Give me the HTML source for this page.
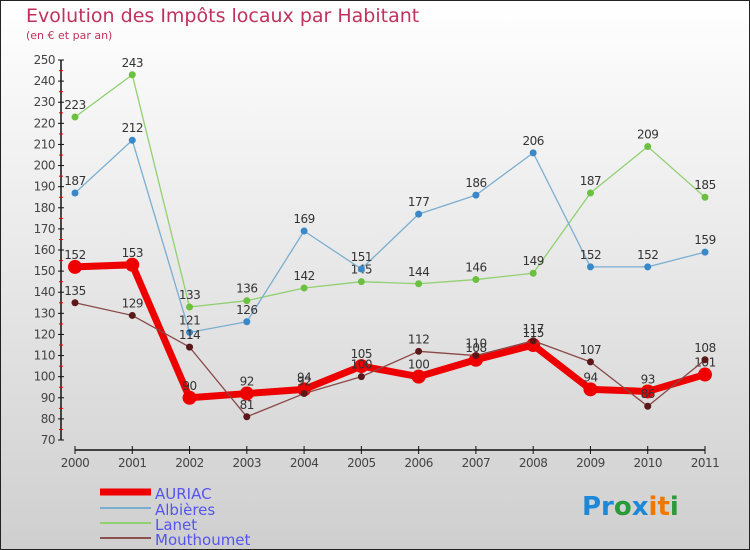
<!DOCTYPE html>
<html><head><meta charset="utf-8"><style>
body{margin:0;width:750px;height:550px;overflow:hidden;}
svg{display:block;font-family:"DejaVu Sans","Liberation Sans",sans-serif;}
</style></head><body>
<svg id="c" width="750" height="550">
<defs><linearGradient id="bg" x1="0" y1="0" x2="0" y2="1"><stop offset="0" stop-color="#ffffff"/><stop offset="1" stop-color="#cfcfcf"/></linearGradient></defs>
<rect x="0.5" y="0.5" width="749" height="549" fill="url(#bg)" stroke="#222"/>
<text x="26" y="22" font-size="19" fill="#c0315e">Evolution des Impôts locaux par Habitant</text>
<text x="26" y="39" font-size="11" fill="#c0315e">(en € et par an)</text>
<g id="axes"></g><g id="plot"></g>
<g>
<line x1="100" y1="492" x2="151" y2="492" stroke="#e00" stroke-width="7"/>
<text x="155" y="499" font-size="15" fill="#5555ee">AURIAC</text>
<line x1="100" y1="508" x2="151" y2="508" stroke="#7aaed0" stroke-width="2"/>
<text x="155" y="515" font-size="15" fill="#5555ee">Albières</text>
<line x1="100" y1="523" x2="151" y2="523" stroke="#90d070" stroke-width="2"/>
<text x="155" y="530" font-size="15" fill="#5555ee">Lanet</text>
<line x1="100" y1="538" x2="151" y2="538" stroke="#8a5050" stroke-width="2"/>
<text x="155" y="545" font-size="15" fill="#5555ee">Mouthoumet</text>
</g>
<text x="582" y="515" font-size="26" font-weight="bold"><tspan fill="#1e88d8">Pr</tspan><tspan fill="#2a9a3a">o</tspan><tspan fill="#1e88d8">x</tspan><tspan fill="#f07800">i</tspan><tspan fill="#f07800">t</tspan><tspan fill="#2a9a3a">i</tspan></text>
</svg>
<script>
const years=["2000","2001","2002","2003","2004","2005","2006","2007","2008","2009","2010","2011"];
const yTicks=[70,80,90,100,110,120,130,140,150,160,170,180,190,200,210,220,230,240,250];
const auriac=[152,153,90,92,94,105,100,108,115,94,93,101];
const albieres=[187,212,121,126,169,151,177,186,206,152,152,159];
const lanet=[223,243,133,136,142,145,144,146,149,187,209,185];
const mouthoumet=[135,129,114,81,92,100,112,110,117,107,86,108];
const NS="http://www.w3.org/2000/svg";
const xS=i=>75+i*(630/11);
const yS=v=>440-(v-70)*(380/180);
function mk(t,a,p){const e=document.createElementNS(NS,t);for(const k in a)e.setAttribute(k,a[k]);p.appendChild(e);return e;}
const ax=document.getElementById('axes'),pl=document.getElementById('plot');
const ya=mk('line',{x1:61,y1:60,x2:61,y2:440,stroke:'#111','stroke-width':1.5},ax);


yTicks.forEach((v,i)=>{const y=yS(v);
 mk('line',{x1:58,y1:y,x2:64,y2:y,stroke:'#111'},ax);
 if(i<yTicks.length-1)mk('line',{x1:59,y1:y-10.5,x2:63,y2:y-10.5,stroke:'#e00'},ax);
 const t=mk('text',{x:55,y:y+4,'font-size':12,fill:'#444','text-anchor':'end','letter-spacing':'-0.5'},ax);t.textContent=v;
 
 
});
const xa=mk('line',{x1:75,y1:450,x2:705,y2:450,stroke:'#111','stroke-width':1.5},ax);


years.forEach((yr,i)=>{const x=xS(i);
 mk('line',{x1:x,y1:446,x2:x,y2:454,stroke:'#111'},ax);
 const t=mk('text',{x:x,y:467,'font-size':12,fill:'#444','text-anchor':'middle','letter-spacing':'-0.5'},ax);t.textContent=yr;
 
 
});
function series(d,name,col,w,r,dot){
 const g=mk('g',{},pl);
 
 
 mk('polyline',{points:d.map((v,i)=>xS(i)+','+yS(v)).join(' '),fill:'none',stroke:col,'stroke-width':w,'stroke-linejoin':'round'},g);
 d.forEach((v,i)=>{const c=mk('circle',{cx:xS(i),cy:yS(v),r:r,fill:dot},g);
  
  
  const t=mk('text',{x:xS(i),y:yS(v)-8,'font-size':12,fill:'#333','text-anchor':'middle','letter-spacing':'-0.5'},g);t.textContent=v;
  
  });
}
series(lanet,'lanet','#90d070',1.3,3.5,'#6cc040');
series(albieres,'albieres','#7aaed0',1.3,3.5,'#3a88c8');
series(auriac,'auriac','#ee0000',7,7,'#ee0000');
series(mouthoumet,'mouthoumet','#8a4848',1.3,3.5,'#5a1818');
</script>
</body></html>
